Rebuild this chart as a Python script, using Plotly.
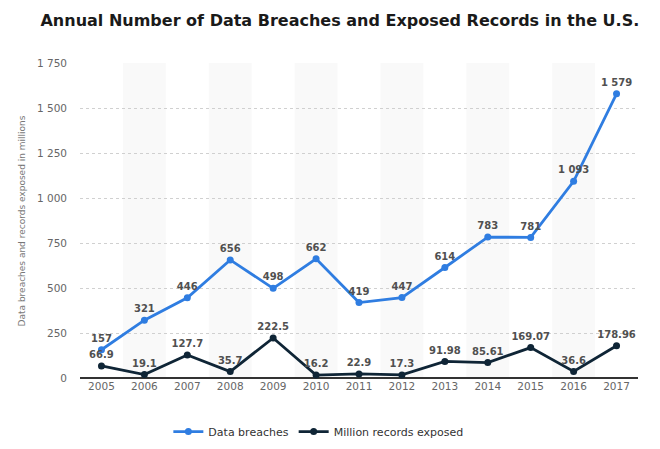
import plotly.graph_objects as go

years = ["2005", "2006", "2007", "2008", "2009", "2010", "2011", "2012", "2013", "2014", "2015", "2016", "2017"]
breaches = [157, 321, 446, 656, 498, 662, 419, 447, 614, 783, 781, 1093, 1579]
records = [66.9, 19.1, 127.7, 35.7, 222.5, 16.2, 22.9, 17.3, 91.98, 85.61, 169.07, 36.6, 178.96]
records_labels = ["66.9", "19.1", "127.7", "35.7", "222.5", "16.2", "22.9", "17.3", "91.98", "85.61", "169.07", "36.6", "178.96"]
y_ticks = [0, 250, 500, 750, 1000, 1250, 1500, 1750]

BLUE = "#2f7de1"
NAVY = "#0f2536"
FONT = "DejaVu Sans"

fig = go.Figure()
fig.add_trace(go.Scatter(
    x=years, y=breaches, mode="lines+markers+text", name="Data breaches",
    line=dict(color=BLUE, width=2.8), marker=dict(size=7, color=BLUE),
    text=["<b>" + f"{v:,}".replace(",", " ") + "</b>" for v in breaches], textposition="top center",
    textfont=dict(family=FONT, size=10, color="#505050"),
    cliponaxis=False,
))
fig.add_trace(go.Scatter(
    x=years, y=records, mode="lines+markers+text", name="Million records exposed",
    line=dict(color=NAVY, width=2.8), marker=dict(size=7, color=NAVY),
    text=["<b>" + t + "</b>" for t in records_labels], textposition="top center",
    textfont=dict(family=FONT, size=10, color="#505050"),
    cliponaxis=False,
))

shapes = []
for i in range(1, len(years), 2):
    shapes.append(dict(type="rect", xref="x", yref="paper", x0=i - 0.5, x1=i + 0.5, y0=0, y1=1,
                       fillcolor="#f9f9f9", line=dict(width=0), layer="below"))

fig.update_layout(
    width=652, height=441,
    margin=dict(l=72, r=22, t=55, b=71, autoexpand=False),
    paper_bgcolor="white", plot_bgcolor="white",
    separators=". ",
    font=dict(family=FONT, size=10.5, color="#666"),
    title=dict(text="<b>Annual Number of Data Breaches and Exposed Records in the U.S.</b>",
               x=0.509, xanchor="center", y=0.973, yref="container", yanchor="middle",
               font=dict(family=FONT, size=16, color="#1a1a1a")),
    shapes=shapes,
    annotations=[dict(text="Data breaches and records exposed in millions", xref="paper", yref="paper",
                      x=-0.104, y=0.5, xanchor="center", yanchor="middle", textangle=-90,
                      showarrow=False, font=dict(family=FONT, size=9, color="#777"))],
    showlegend=True,
    legend=dict(orientation="h", xref="container", x=0.476, xanchor="center", y=-0.17, yanchor="middle",
                font=dict(family=FONT, size=11, color="#333"), itemwidth=30),
    xaxis=dict(type="category", showgrid=False, ticks="", tickfont=dict(size=10.5, color="#666"),
               showline=False, range=[-0.5, len(years) - 0.5], automargin=False),
    yaxis=dict(range=[0, 1750], tickvals=y_ticks, tickformat=",d", automargin=False,
               showgrid=True, gridcolor="#d0d0d0", griddash="dot", gridwidth=1,
               zeroline=True, zerolinecolor="#333", zerolinewidth=1.5,
               ticks="", ticklabelstandoff=12,
               tickfont=dict(size=10.5, color="#666")),
)

fig.write_html("out.html")
